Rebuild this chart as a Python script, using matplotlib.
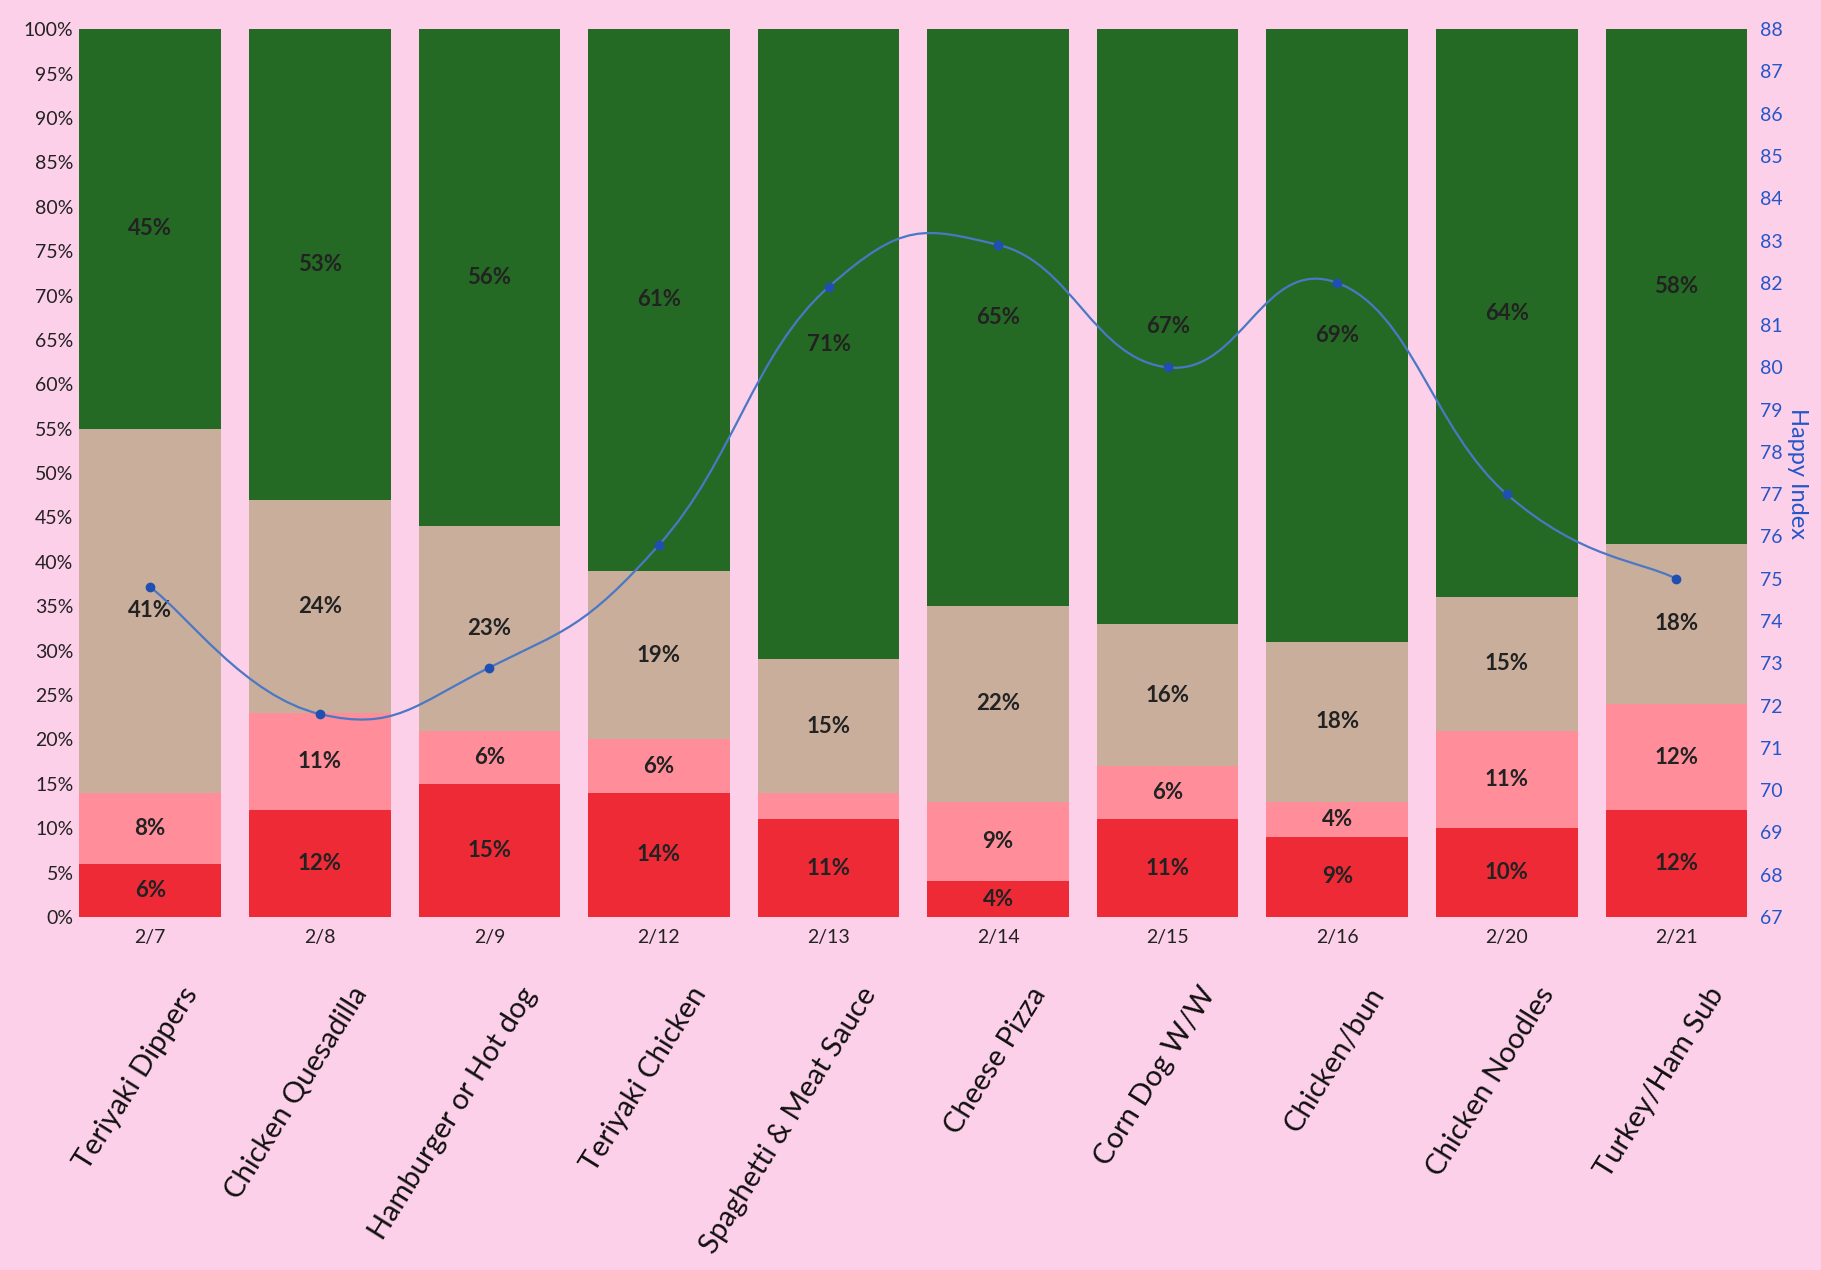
import numpy as np
import matplotlib
matplotlib.use("Agg")
import matplotlib.pyplot as plt
from matplotlib.path import Path
from matplotlib.patches import PathPatch

# chart data
dates = ["2/7", "2/8", "2/9", "2/12", "2/13", "2/14", "2/15", "2/16", "2/20", "2/21"]
meals = ["Teriyaki Dippers", "Chicken Quesadilla", "Hamburger or Hot dog", "Teriyaki Chicken",
         "Spaghetti & Meat Sauce", "Cheese Pizza", "Corn Dog W/W", "Chicken/bun",
         "Chicken Noodles", "Turkey/Ham Sub"]
red = [6, 12, 15, 14, 11, 4, 11, 9, 10, 12]
pink = [8, 11, 6, 6, 3, 9, 6, 4, 11, 12]
tan = [41, 24, 23, 19, 15, 22, 16, 18, 15, 18]
green = [45, 53, 56, 61, 71, 65, 67, 69, 64, 58]
happy = [74.8, 71.8, 72.9, 75.8, 81.9, 82.9, 80.0, 82.0, 77.0, 75.0]

bg = "#fdd0ea"
colors = ["#ee2a36", "#ff8e9a", "#c9ae9c", "#256a24"]

plt.rcParams["font.family"] = ["Lato", "DejaVu Sans"]

fig = plt.figure(figsize=(18.21, 12.70), dpi=100, facecolor=bg)
ax = fig.add_axes([0.0434, 0.278, 0.920, 0.699])
ax.set_facecolor(bg)

x = np.arange(len(dates))
bottom = np.zeros(len(dates))
for vals, c in zip([red, pink, tan, green], colors):
    vals = np.array(vals, dtype=float)
    ax.bar(x, vals, width=0.835, bottom=bottom, color=c, zorder=2)
    for xi, b, v in zip(x, bottom, vals):
        if v >= 4:
            ax.text(xi, b + v / 2, f"{int(v)}%", ha="center", va="center",
                    fontsize=16, fontweight="bold", color="#222222", zorder=3)
    bottom += vals

ax.set_xlim(-0.42, 9.46)
ax.set_ylim(0, 100)
ax.set_yticks(np.arange(0, 101, 5))
ax.set_yticklabels([f"{v}%" for v in range(0, 101, 5)], fontsize=14, color="#222222")
ax.set_xticks(x)
ax.set_xticklabels(dates, fontsize=14, color="#222222")
ax.tick_params(axis="both", length=0)
ax.tick_params(axis="x", pad=9)
ax.tick_params(axis="y", pad=4)
for s in ax.spines.values():
    s.set_visible(False)

# rotated meal names under the dates
for xi, name in zip(x, meals):
    ax.text(xi + 0.18, -0.074, name, transform=ax.get_xaxis_transform(),
            rotation=58, rotation_mode="anchor", ha="right", va="top",
            fontsize=21, color="#111111")

# happy index on secondary axis, smoothed line
ax2 = ax.twinx()
ax2.set_ylim(67, 88)
ax2.set_yticks(np.arange(67, 89, 1))
ax2.tick_params(axis="y", length=0, labelsize=14, labelcolor="#2456c8", pad=4)
for s in ax2.spines.values():
    s.set_visible(False)
ax2.set_ylabel("Happy Index", rotation=270, color="#2456c8", fontsize=17, labelpad=18)

pts = np.column_stack([x, happy]).astype(float)
verts = [pts[0]]
codes = [Path.MOVETO]
n = len(pts)
k = 0.22
for i in range(n - 1):
    p0 = pts[i - 1] if i > 0 else pts[i]
    p1 = pts[i]
    p2 = pts[i + 1]
    p3 = pts[i + 2] if i + 2 < n else pts[i + 1]
    c1 = p1 + (p2 - p0) * k
    c2 = p2 - (p3 - p1) * k
    verts += [c1, c2, p2]
    codes += [Path.CURVE4] * 3
ax2.add_patch(PathPatch(Path(verts, codes), facecolor="none", edgecolor="#4a78c4",
                        lw=1.6, zorder=4))
ax2.plot(x, happy, linestyle="none", marker="o", markersize=6, color="#1f4fb0", zorder=5)

fig.savefig("out.png", dpi=100, facecolor=bg)
